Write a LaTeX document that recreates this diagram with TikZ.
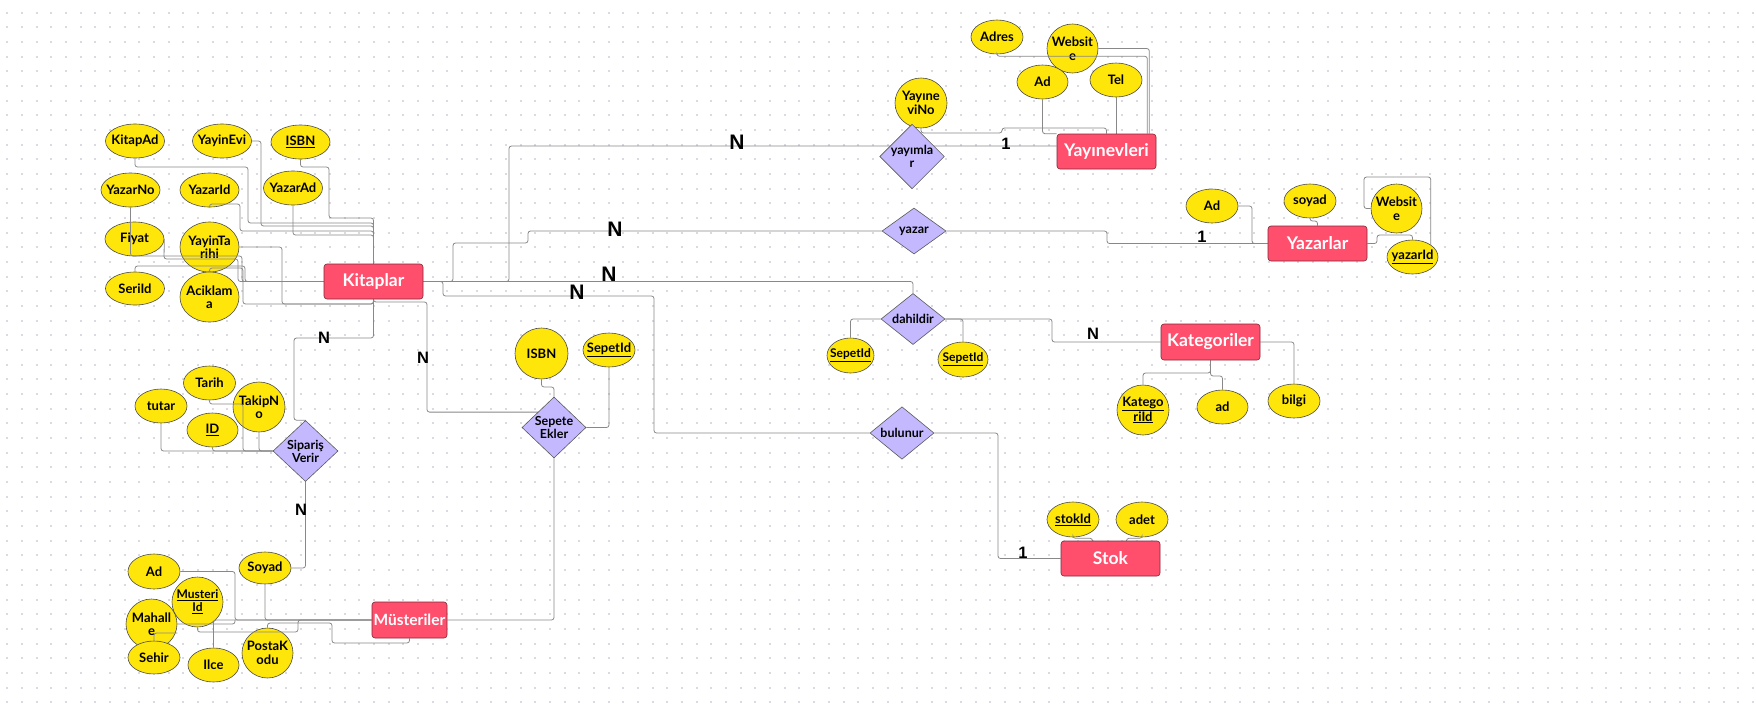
\documentclass[tikz,border=0pt]{standalone}
\usepackage{fontspec}
\setmainfont{Lato}
\newfontfamily\cardfont{Liberation Sans}
\usetikzlibrary{shapes.geometric}

\definecolor{entityred}{HTML}{FF4F6D}
\definecolor{attryellow}{HTML}{FFE60A}
\definecolor{rellilac}{HTML}{C4B9FF}
\definecolor{linegray}{HTML}{888888}
\definecolor{dotgray}{HTML}{DADAE0}

\pgfdeclarelayer{bglayer}
\pgfdeclarelayer{attrlayer}
\pgfdeclarelayer{linelayer}
\pgfsetlayers{bglayer,attrlayer,linelayer,main}

\tikzset{
  entity/.style={rectangle, rounded corners=3pt, draw=entityred!50!black,
    line width=0.6pt, fill=entityred, text=white,
    font=\bfseries\fontsize{17.5}{19}\selectfont,
    minimum width=99pt, minimum height=35pt, inner xsep=-10pt, inner ysep=0pt},
  attr/.style={ellipse, draw=black!70, line width=0.6pt, fill=attryellow,
    font=\bfseries\fontsize{13}{13.5}\selectfont, align=center,
    minimum width=52pt, minimum height=34pt, inner xsep=-8pt, inner ysep=0pt},
  attrwide/.style={attr, minimum width=59pt},
  attrround/.style={minimum height=50pt},
  smalltext/.style={font=\bfseries\fontsize{12}{13}\selectfont},
  rel/.style={diamond, draw=black!65, line width=0.6pt, fill=rellilac,
    font=\bfseries\fontsize{12.5}{13}\selectfont, align=center,
    minimum width=64pt, minimum height=44pt, inner sep=0pt},
  reltall/.style={rel, minimum height=61pt},
  conn/.style={draw=linegray, line width=0.8pt, rounded corners=2.5pt},
  card/.style={font=\cardfont\bfseries\fontsize{16.5}{16.5}\selectfont, inner sep=0pt},
  bigcard/.style={card, font=\cardfont\bfseries\fontsize{21}{21}\selectfont},
  dotrow/.style={draw=dotgray, line width=2pt, dash pattern=on 2pt off 12.67pt}
}

\begin{document}
\begin{tikzpicture}[x=1pt, y=-1pt]
  \useasboundingbox (0,0) rectangle (1756,710);

  % background with dot grid
  \begin{pgfonlayer}{bglayer}
    \fill[white] (0,0) rectangle (1756,710);
    \foreach \j in {0,...,47}
      \draw[dotrow] (6.3,12.7+14.67*\j) -- (1756,12.7+14.67*\j);
  \end{pgfonlayer}

  % entities
  \node[entity] (kitaplar) at (373.5,281.5) {Kitaplar};
  \node[entity] (yayinevleri) at (1106.5,151.5) {Yayınevleri};
  \node[entity] (yazarlar) at (1317.5,243.5) {Yazarlar};
  \node[entity, minimum height=36pt] (kategoriler) at (1210.5,342) {Kategoriler};
  \node[entity] (stok) at (1110.5,558.5) {Stok};
  \node[entity, minimum width=75pt, minimum height=36pt,
    font=\bfseries\fontsize{15.5}{17}\selectfont] (musteriler) at (409.5,620) {Müsteriler};

  % relationships
  \node[reltall] (yayimlar) at (912,156.5) {yayımla\\r};
  \node[rel, minimum height=46pt] (yazar) at (914,231) {yazar};
  \node[rel] (dahildir) at (913,319) {dahildir};
  \node[rel] (bulunur) at (902,433) {bulunur};
  \node[reltall, minimum width=65pt] (siparis) at (305.5,451) {Sipariş\\Verir};
  \node[reltall] (sepete) at (554,427.5) {Sepete\\Ekler};

  % attributes
  \begin{pgfonlayer}{attrlayer}
    \node[attrwide] (kitapAd) at (135,141) {KitapAd};
    \node[attrwide] (yayinEvi) at (222,141) {YayinEvi};
    \node[attrwide] (isbn) at (300.5,142) {\underline{ISBN}};
    \node[attrwide] (yazarNo) at (130.5,190) {YazarNo};
    \node[attrwide] (yazarIdK) at (209.5,190) {YazarId};
    \node[attrwide] (yazarAdK) at (293,188) {YazarAd};
    \node[attrwide] (fiyat) at (134.5,239) {Fiyat};
    \node[attrwide, attrround] (yayinTarihi) at (209.5,247) {YayinTa\\rihi};
    \node[attrwide, minimum height=33pt] (seriId) at (135,288.5) {SeriId};
    \node[attrwide, attrround] (aciklama) at (209.5,297) {Aciklam\\a};

    \node[attr] (tutar) at (161,406) {tutar};
    \node[attr] (tarih) at (209.5,383) {Tarih};
    \node[attr, minimum width=51pt] (idS) at (212.5,430) {\underline{ID}};
    \node[attr, attrround] (takipNo) at (259,407) {TakipN\\o};

    \node[attr, minimum height=35pt] (adM) at (154,571.5) {Ad};
    \node[attr, minimum height=32pt] (soyadM) at (265,568) {Soyad};
    \node[attr, attrround, minimum width=51pt, smalltext] (musteriId) at (197.5,602) {\underline{Musteri}\\\underline{Id}};
    \node[attr, attrround, minimum width=51pt] (mahalle) at (151.5,624) {Mahall\\e};
    \node[attr, minimum height=33pt] (sehir) at (154,657.5) {Sehir};
    \node[attr, minimum width=51pt] (ilce) at (213.5,665) {Ilce};
    \node[attr, attrround, minimum width=51pt] (postaKodu) at (267.5,653) {PostaK\\odu};

    \node[attr] (adresY) at (997,37) {Adres};
    \node[attr, minimum width=51pt, minimum height=49pt] (websiteY) at (1072.5,48.5) {Websit\\e};
    \node[attr, minimum width=51pt] (adY) at (1042.5,82) {Ad};
    \node[attr] (telY) at (1116,80) {Tel};
    \node[attr, attrround] (yayineviNo) at (921,103) {Yayıne\\viNo};

    \node[attr] (adZ) at (1212,206) {Ad};
    \node[attr] (soyadZ) at (1310,201) {soyad};
    \node[attr, minimum width=51pt, minimum height=49pt] (websiteZ) at (1396.5,208.5) {Websit\\e};
    \node[attr, minimum width=51pt] (yazarIdZ) at (1412.5,257) {\underline{yazarId}};

    \node[attr, minimum width=47pt, minimum height=35pt, smalltext] (sepetIdD1) at (850.5,355.5) {\underline{SepetId}};
    \node[attr, minimum width=50pt, minimum height=35pt, smalltext] (sepetIdD2) at (963,359.5) {\underline{SepetId}};
    \node[attr, attrround] (kategoriId) at (1143,410) {\underline{Katego}\\\underline{riId}};
    \node[attr, minimum width=51pt] (adK) at (1222.5,407) {ad};
    \node[attr] (bilgi) at (1294,401) {bilgi};

    \node[attr, minimum width=53pt, minimum height=51pt] (isbnS) at (541.5,353.5) {ISBN};
    \node[attr] (sepetIdS) at (609,350) {\underline{SepetId}};

    \node[attr, minimum height=35pt] (stokId) at (1073,519.5) {\underline{stokId}};
    \node[attr, minimum height=35pt] (adet) at (1142,519.5) {adet};
  \end{pgfonlayer}

  \begin{pgfonlayer}{linelayer}
    % Kitaplar attributes
    \draw[conn] (kitapAd.south) |- (248,167) |- (373.5,223) -- (kitaplar.north);
    \draw[conn] (yayinEvi.east) -| (261,226) -| (kitaplar.north);
    \draw[conn] (isbn.south) |- (329,167) |- (373.5,218) -- (kitaplar.north);
    \draw[conn] (yazarAdK.south) |- (373.5,235) -- (kitaplar.north);
    \draw[conn] (yazarIdK.south) -- (209.5,204) -| (240,231) -| (kitaplar.north);
    \draw[conn] (yazarNo.south) |- (242,256) |- (kitaplar.west);
    \draw[conn] (fiyat.east) -- (164,259) -| (238,281.5) -- (kitaplar.west);
    \draw[conn] (seriId.north) |- (245,266) |- (kitaplar.west);
    \draw[conn] (yayinTarihi.east) -| (282,304) -| (kitaplar.south);
    \draw[conn] (aciklama.north) |- (243,268) |- (373.5,304) -- (kitaplar.south);

    % Kitaplar to the relationships
    \coordinate (yayPass) at (509,146);
    \draw[conn] (kitaplar.east) -| (yayPass) -- (yayinevleri.west |- yayPass);
    \draw[conn] (kitaplar.east) -- (453,281.5) |- (528,243) |- (yazar.west);
    \draw[conn] (kitaplar.east) -| (dahildir.north);
    \draw[conn] (kitaplar.east) -- (443,281.5) |- (654,296) |- (bulunur.west);
    \draw[conn] (kitaplar.south) |- (427,302) |- (sepete.north west);
    \draw[conn] (kitaplar.south) |- (294,338) |- (siparis.north);

    % relationships to the other entities
    \draw[conn] (siparis.south) |- (soyadM.east);
    \draw[conn] (sepete.south) |- (musteriler.east);
    \draw[conn] (yazar.east) -| (1107,243.5) -- (yazarlar.west);
    \draw[conn] (dahildir.east) -| (1052,342) -- (kategoriler.west);
    \draw[conn] (dahildir.west) -| (sepetIdD1.north);
    \draw[conn] (dahildir.east) -| (sepetIdD2.north);
    \draw[conn] (bulunur.east) -| (998,558.5) -- (stok.west);

    % Yayinevleri attributes
    \draw[conn] (yayineviNo.south) |- (1002,133) |- (1106.5,128) -- (yayinevleri.north);
    \draw[conn] (adY.south) |- (yayinevleri.north west);
    \draw[conn] (telY.south) -- (telY.south |- yayinevleri.north);
    \draw[conn] (adresY.south) -- ++(0,2) -| ([xshift=-9pt]yayinevleri.north east);
    \draw[conn] (websiteY.east) -| ([xshift=-7pt]yayinevleri.north east);

    % Yazarlar attributes
    \draw[conn] (adZ.east) -| (1252,243.5) -- (yazarlar.west);
    \draw[conn] (soyadZ.south) |- (1317.5,221) -- (yazarlar.north);
    \draw[conn] (websiteZ.west) -| (1364,177) -| (yazarIdZ.north east);
    \draw[conn] (yazarlar.east) -- (1377,243.5) |- (1412.5,235) -- (yazarIdZ.north);

    % Kategoriler attributes
    \draw[conn] (kategoriler.south) |- (1143,373) -- (kategoriId.north);
    \draw[conn] (kategoriler.south) |- (1222.5,376) -- (adK.north);
    \draw[conn] (kategoriler.east) -| (bilgi.north);

    % Stok attributes
    \draw[conn] (stokId.south) -- ++(0,1) -| ([xshift=-18pt]stok.north);
    \draw[conn] (adet.south) -- ++(0,1) -| ([xshift=16pt]stok.north);

    % Siparis Verir attributes
    \draw[conn] (tutar.south) |- (siparis.west);
    \draw[conn] (idS.south) |- (siparis.west);
    \draw[conn] (tarih.south) |- (243,404) |- (siparis.west);
    \draw[conn] (takipNo.south) |- (siparis.west);

    % Sepete Ekler attributes
    \draw[conn] (isbnS.south) |- (554,387) -- (sepete.north);
    \draw[conn] (sepetIdS.south) |- (sepete.east);

    % Musteriler attributes
    \draw[conn] (adM.east) -| (235,620) -- (musteriler.west);
    \draw[conn] (mahalle.east) -| (235,620);
    \draw[conn] (soyadM.south) |- (musteriler.west);
    \draw[conn] (ilce.north) |- (musteriler.west);
    \draw[conn] (musteriId.south) |- (298,632) |- (musteriler.west);
    \draw[conn] (sehir.north) |- ([yshift=-9pt]mahalle.east);
    \draw[conn] (postaKodu.north) |- (332,623) -- (332,643) -| (musteriler.south);
  \end{pgfonlayer}

  % cardinalities
  \node[bigcard] (nYayimlar) at (737,142) {N};
  \node[card] (oneYayimlar) at (1006,144) {1};
  \node[bigcard] (nYazar) at (615,229) {N};
  \node[card] (oneYazar) at (1202,237) {1};
  \node[bigcard] (nDahildir) at (609,274) {N};
  \node[bigcard] (nBulunur) at (577,292) {N};
  \node[card] (nKategori) at (1093,333.5) {N};
  \node[card] (oneStok) at (1023,552.5) {1};
  \node[card] (nSiparisUst) at (324,337.5) {N};
  \node[card] (nSiparisAlt) at (301,510) {N};
  \node[card] (nSepete) at (423,357.5) {N};
\end{tikzpicture}
\end{document}
